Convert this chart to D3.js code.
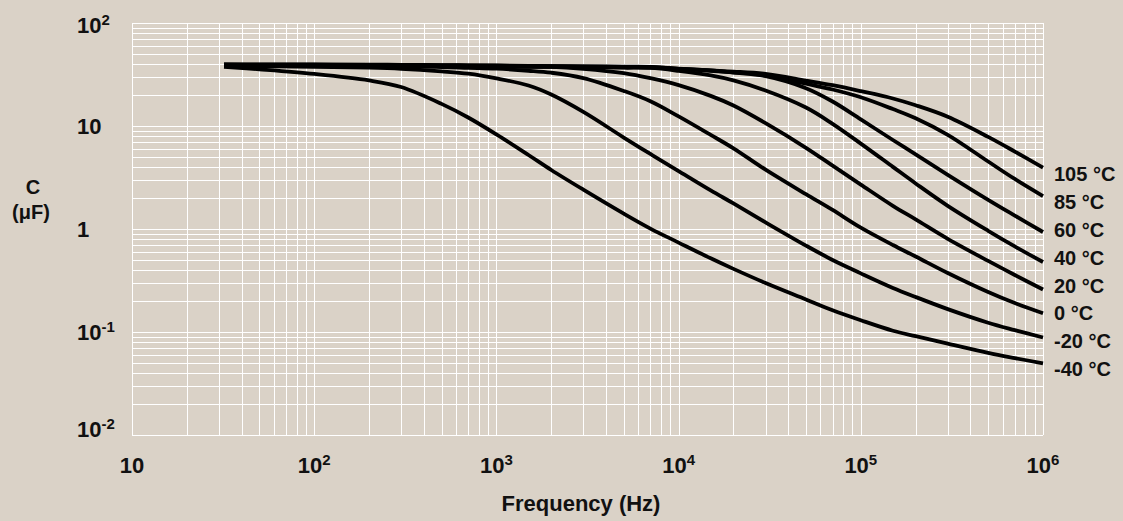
<!DOCTYPE html>
<html>
<head>
<meta charset="utf-8">
<script src="https://cdn.jsdelivr.net/npm/d3@7"></script>
<style>
  html, body { margin: 0; padding: 0; background: #dad2c7; }
  svg { display: block; }
  text { font-family: "Liberation Sans", Arial, Helvetica, sans-serif; font-weight: bold; fill: #111; }
</style>
</head>
<body>
<svg id="chart" width="1123" height="521"></svg>
<script>
// ---- data ----
const freq = [32, 50, 100, 200, 300, 500, 700, 1000, 1500, 2000, 3000, 5000, 7000,
              1e4, 1.5e4, 2e4, 3e4, 5e4, 7e4, 1e5, 1.5e5, 2e5, 3e5, 5e5, 7e5, 1e6];

const c105 = [39.7, 39.6, 39.55, 39.4, 39.3, 39.0, 38.85, 38.7, 38.4, 38.2, 38.0, 37.7, 37.55,
              36.1, 34.7, 33.8, 32.05, 27.6, 24.9, 21.8, 18.5, 15.9, 12.3, 7.84, 5.65, 3.95];
const c85  = [39.55, 39.45, 39.4, 39.2, 39.1, 38.85, 38.7, 38.5, 38.2, 38.1, 37.8, 37.55, 37.4,
              35.9, 34.3, 33.2, 31.1, 25.8, 22.6, 19.0, 14.6, 11.9, 8.21, 4.52, 3.06, 2.09];
const c60  = [39.3, 39.2, 39.1, 38.9, 38.85, 38.6, 38.4, 38.2, 38.0, 37.8, 37.55, 37.2, 36.98,
              35.8, 34.6, 33.0, 30.5, 23.3, 17.3, 11.6, 7.31, 5.30, 3.36, 1.92, 1.35, 0.935];
const c40  = [39.1, 39.0, 38.9, 38.75, 38.7, 38.4, 38.2, 38.0, 37.7, 37.5, 37.2, 36.8, 36.6,
              34.3, 31.0, 27.7, 22.1, 15.1, 10.5, 6.75, 4.01, 2.77, 1.68, 0.961, 0.678, 0.478];
const c20  = [38.85, 38.8, 38.6, 38.4, 38.2, 37.9, 37.8, 37.6, 37.5, 37.45, 35.9, 32.6, 29.1,
              24.9, 19.6, 15.8, 10.65, 6.14, 4.12, 2.70, 1.68, 1.24, 0.803, 0.490, 0.358, 0.2586];
const c0   = [38.7, 38.5, 38.2, 37.9, 37.7, 37.4, 36.7, 36.0, 34.4, 32.9, 29.2, 21.9, 17.4,
              12.4, 8.20, 6.07, 3.77, 2.18, 1.53, 1.03, 0.699, 0.541, 0.374, 0.2445, 0.191, 0.152];
const cm20 = [38.4, 38.15, 37.6, 36.8, 35.9, 33.9, 32.2, 29.0, 24.7, 20.2, 13.7, 7.73, 5.35,
              3.65, 2.37, 1.77, 1.16, 0.690, 0.500, 0.371, 0.268, 0.2187, 0.1668, 0.1231, 0.1043, 0.0884];
const cm40 = [37.6, 35.5, 32.0, 27.7, 23.9, 16.4, 12.1, 8.29, 5.23, 3.74, 2.41, 1.41, 1.01,
              0.738, 0.519, 0.410, 0.299, 0.207, 0.1624, 0.130, 0.1029, 0.0910, 0.0770, 0.0627, 0.0558, 0.0497];

const seriesValues = [c105, c85, c60, c40, c20, c0, cm20, cm40];
const seriesLabels = ["105 °C", "85 °C", "60 °C", "40 °C", "20 °C", "0 °C", "-20 °C", "-40 °C"];

const xTickValues = [10, 1e2, 1e3, 1e4, 1e5, 1e6];
const xTickBase   = ["10", "10", "10", "10", "10", "10"];
const xTickExp    = ["", "2", "3", "4", "5", "6"];

const yTickValues = [0.01, 0.1, 1, 10, 100];
const yTickBase   = ["10", "10", "1", "10", "10"];
const yTickExp    = ["-2", "-1", "", "", "2"];

const xTitle = "Frequency (Hz)";
const yTitle = ["C", "(μF)"];

// ---- layout ----
const W = 1123, H = 521;
const plot = { left: 132, right: 1043, top: 23, bottom: 435 };

const svg = d3.select("#chart");
svg.append("rect").attr("width", W).attr("height", H).attr("fill", "#dad2c7");

const x = d3.scaleLog().domain([10, 1e6]).range([plot.left, plot.right]);
const y = d3.scaleLog().domain([0.01, 100]).range([plot.bottom, plot.top]);

// ---- grid ----
const grid = svg.append("g").attr("stroke", "#ffffff").attr("stroke-width", 1)
  .attr("shape-rendering", "crispEdges");
grid.selectAll("line.v").data(x.ticks()).join("line")
  .attr("class", "v")
  .attr("x1", d => Math.round(x(d)) + 0.5).attr("x2", d => Math.round(x(d)) + 0.5)
  .attr("y1", plot.top).attr("y2", plot.bottom);
grid.selectAll("line.h").data(y.ticks()).join("line")
  .attr("class", "h")
  .attr("y1", d => Math.round(y(d)) + 0.5).attr("y2", d => Math.round(y(d)) + 0.5)
  .attr("x1", plot.left).attr("x2", plot.right);

// ---- tick labels ----
const tickFont = 22, supFont = 15;
const xl = svg.append("g").selectAll("text").data(xTickValues).join("text")
  .attr("x", d => x(d)).attr("y", plot.bottom + 38)
  .attr("text-anchor", "middle").attr("font-size", tickFont);
xl.append("tspan").text((d, i) => xTickBase[i]);
xl.append("tspan").attr("font-size", supFont).attr("dy", -8).text((d, i) => xTickExp[i]);

const yl = svg.append("g").selectAll("text").data(yTickValues).join("text")
  .attr("x", 77)
  .attr("y", d => Math.min(Math.max(y(d) + 8, plot.top + 10), plot.bottom + 2))
  .attr("text-anchor", "start").attr("font-size", tickFont);
yl.append("tspan").text((d, i) => yTickBase[i]);
yl.append("tspan").attr("font-size", supFont).attr("dy", -8).text((d, i) => yTickExp[i]);

// ---- axis titles ----
svg.append("text").attr("x", 581).attr("y", 511).attr("text-anchor", "middle")
  .attr("font-size", 22).text(xTitle);
svg.append("text").attr("x", 33).attr("y", 194).attr("text-anchor", "middle")
  .attr("font-size", 20).text(yTitle[0]);
svg.append("text").attr("x", 31).attr("y", 219).attr("text-anchor", "middle")
  .attr("font-size", 20).text(yTitle[1]);

// ---- curves ----
const line = d3.line()
  .x((d, i) => x(freq[i]))
  .y(d => y(d))
  .curve(d3.curveCatmullRom.alpha(0.5));

svg.append("g").selectAll("path").data(seriesValues).join("path")
  .attr("d", d => line(d))
  .attr("fill", "none").attr("stroke", "#000").attr("stroke-width", 3.8)
  .attr("stroke-linecap", "butt").attr("stroke-linejoin", "round");

// ---- curve labels (evenly stacked at right) ----
const labelTop = 174.3, labelStep = 27.8;
svg.append("g").selectAll("text").data(seriesLabels).join("text")
  .attr("x", plot.right + 11)
  .attr("y", (d, i) => labelTop + i * labelStep + 7)
  .attr("font-size", 20).text(d => d);
</script>
</body>
</html>
